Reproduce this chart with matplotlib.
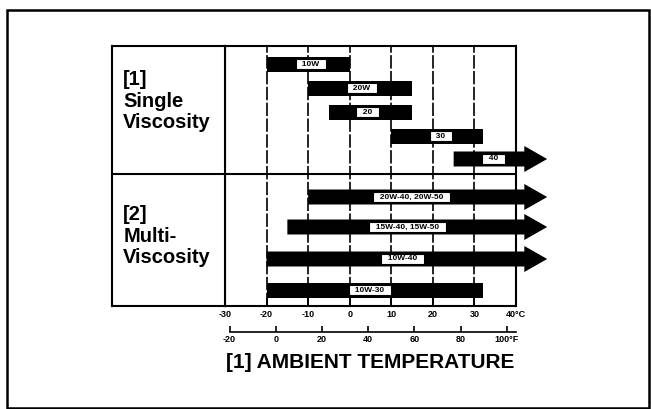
import matplotlib
matplotlib.use('Agg')
import matplotlib.pyplot as plt
from matplotlib.patches import FancyArrow, Rectangle

plt.rcParams['font.family'] = ['Liberation Sans', 'DejaVu Sans']

# oil grades and the temperature span (°C) each one covers
single_grades = ['10W', '20W', '20', '30', '40']
single_low = [-20, -10, -5, 10, 25]
single_high = [0, 15, 15, 32, None]      # None = open ended, drawn as arrow
multi_grades = ['20W-40, 20W-50', '15W-40, 15W-50', '10W-40', '10W-30']
multi_low = [-10, -15, -20, -20]
multi_high = [None, None, None, 32]

celsius_ticks = [-30, -20, -10, 0, 10, 20, 30, 40]
celsius_labels = ['-30', '-20', '-10', '0', '10', '20', '30', '40°C']
fahrenheit_ticks = [-20, 0, 20, 40, 60, 80, 100]
fahrenheit_labels = ['-20', '0', '20', '40', '60', '80', '100°F']

# layout: row centres (pixel rows from top) and label centres in °C
row_y = [64, 88, 112, 136, 159, 197, 227, 259, 290]
label_x = [-9.4, 2.9, 4.3, 21.9, 34.6, 14.9, 13.9, 12.7, 4.8]
arrow_tip = 47.5

W, H = 651, 409
fig = plt.figure(figsize=(W / 100, H / 100), dpi=100)


def fx(p):
    return p / W


def fy(p):
    return 1 - p / H


top, bot = 46, 306
ax = fig.add_axes([fx(225), fy(bot), fx(516) - fx(225), (bot - top) / H])
ax.set_xlim(-30, 40)
ax.set_ylim(bot, top)

lab = fig.add_axes([fx(112), fy(bot), fx(225) - fx(112), (bot - top) / H])
lab.set_xlim(0, 1)
lab.set_ylim(bot, top)
lab.set_xticks([])
lab.set_yticks([])
for a in (ax, lab):
    for s in a.spines.values():
        s.set_linewidth(1.5)
lab.axhline(174, color='black', lw=1.5)
ax.axhline(174, color='black', lw=1.5)

lab.text(0.1, 70, '[1]\nSingle\nViscosity', va='top', ha='left',
         fontsize=14.5, fontweight='bold', linespacing=1.17)
lab.text(0.1, 205, '[2]\nMulti-\nViscosity', va='top', ha='left',
         fontsize=14.5, fontweight='bold', linespacing=1.17)

# temperature grid
for c in celsius_ticks[1:-1]:
    ax.axvline(c, color='black', lw=1.2, ls=(0, (8, 1.5)), zorder=1)

grades = single_grades + multi_grades
lows = single_low + multi_low
highs = single_high + multi_high
for name, lo, hi, y, lx in zip(grades, lows, highs, row_y, label_x):
    if hi is None:
        ax.add_patch(FancyArrow(lo, y, arrow_tip - lo, 0, width=15,
                                head_width=26, head_length=5.5,
                                length_includes_head=True, color='black',
                                lw=0, clip_on=False, zorder=3))
    else:
        ax.barh(y, hi - lo, left=lo, height=15, color='black', zorder=3)
    ax.text(lx, y, f'  {name}  ', ha='center', va='center',
            fontsize=6, fontweight='bold', zorder=4,
            bbox=dict(boxstyle='square,pad=0.2', fc='white', ec='black',
                      lw=0.8))

ax.set_yticks([])
ax.set_xticks(celsius_ticks)
ax.set_xticklabels(celsius_labels, fontsize=6.5, fontweight='bold')
ax.tick_params(axis='x', direction='in', length=6, width=1.4, pad=3)

sec = ax.secondary_xaxis(-0.1, functions=(lambda c: c * 9 / 5 + 32,
                                          lambda f: (f - 32) * 5 / 9))
sec.set_xticks(fahrenheit_ticks)
sec.set_xticklabels(fahrenheit_labels, fontsize=6.5, fontweight='bold')
sec.tick_params(axis='x', direction='in', length=4, width=1.2, pad=2)
sec.spines['bottom'].set_linewidth(1.2)
sec.spines['bottom'].set_bounds(-20, 104)

fig.text(fx(370), fy(362), '[1] AMBIENT TEMPERATURE', ha='center',
         va='center', fontsize=15, fontweight='bold')

fig.add_artist(Rectangle((fx(6.5), fy(407.5)), fx(649) - fx(6.5),
                         (407.5 - 10) / H, transform=fig.transFigure,
                         fill=False, lw=1.8, ec='black'))

fig.savefig('out.png', dpi=100)
